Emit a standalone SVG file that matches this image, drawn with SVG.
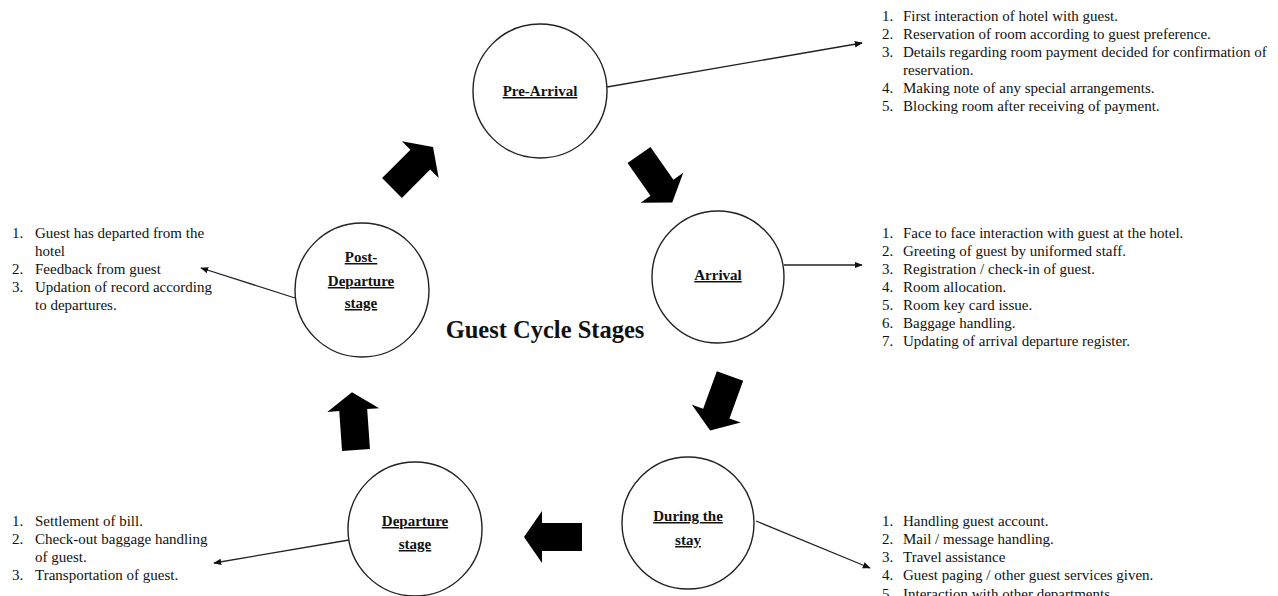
<svg xmlns="http://www.w3.org/2000/svg" width="1278" height="596" viewBox="0 0 1278 596">
<style>
.c{fill:#fff;stroke:#222;stroke-width:1.4}
.lbl{font-family:"Liberation Serif","Times New Roman",serif;font-weight:bold;font-size:15px;text-decoration:underline;text-anchor:middle;fill:#111}
.t{font-family:"Liberation Serif","Times New Roman",serif;font-size:15px;fill:#111}
.title{font-family:"Liberation Serif","Times New Roman",serif;font-weight:bold;font-size:24.5px;text-anchor:middle;fill:#111}
.ln{stroke:#222;stroke-width:1.3;fill:none;marker-end:url(#ah)}
.blk{fill:#000}
</style>
<defs>
<marker id="ah" viewBox="0 0 10 10" refX="9" refY="5" markerWidth="8" markerHeight="8" markerUnits="userSpaceOnUse" orient="auto">
<path d="M0,1 L10,5 L0,9 Z" fill="#111"/>
</marker>
<path id="ba" d="M0,-14 L40,-14 L40,-26 L58,0 L40,26 L40,14 L0,14 Z"/>
</defs>
<rect width="1278" height="596" fill="#fff"/>

<g id="connectors">
<line class="ln" x1="607" y1="87" x2="862" y2="43"/>
<line class="ln" x1="784" y1="265" x2="862" y2="265"/>
<line class="ln" x1="756" y1="521" x2="870" y2="568"/>
<line class="ln" x1="349" y1="540" x2="214" y2="563"/>
<line class="ln" x1="295" y1="298" x2="201" y2="268"/>
<use href="#ba" class="blk" transform="translate(392,188) rotate(-45)"/>
<use href="#ba" class="blk" transform="translate(639,155) rotate(55)"/>
<use href="#ba" class="blk" transform="translate(730,376) rotate(110)"/>
<use href="#ba" class="blk" transform="translate(582,537) rotate(180)"/>
<use href="#ba" class="blk" transform="translate(356,450) rotate(-94)"/>
</g>

<g id="pre-arrival">
<circle class="c" cx="540" cy="91" r="67"/>
<text class="lbl" x="540" y="96">Pre-Arrival</text>
</g>
<g id="arrival">
<circle class="c" cx="718" cy="277" r="66"/>
<text class="lbl" x="718" y="280">Arrival</text>
</g>
<g id="during-stay">
<circle class="c" cx="688" cy="523" r="66"/>
<text class="lbl" x="688" y="521">During the</text>
<text class="lbl" x="688" y="545">stay</text>
</g>
<g id="departure">
<circle class="c" cx="415" cy="529" r="67"/>
<text class="lbl" x="415" y="526">Departure</text>
<text class="lbl" x="415" y="549">stage</text>
</g>
<g id="post-departure">
<circle class="c" cx="362" cy="290" r="67"/>
<text class="lbl" x="361" y="262">Post-</text>
<text class="lbl" x="361" y="286">Departure</text>
<text class="lbl" x="361" y="308">stage</text>
</g>

<text class="title" x="545" y="338">Guest Cycle Stages</text>

<g id="pre-arrival-list" class="t">
<text x="882" y="21">1.</text><text x="903" y="21">First interaction of hotel with guest.</text>
<text x="882" y="39">2.</text><text x="903" y="39">Reservation of room according to guest preference.</text>
<text x="882" y="57">3.</text><text x="903" y="57">Details regarding room payment decided for confirmation of</text>
<text x="903" y="75">reservation.</text>
<text x="882" y="93">4.</text><text x="903" y="93">Making note of any special arrangements.</text>
<text x="882" y="111">5.</text><text x="903" y="111">Blocking room after receiving of payment.</text>
</g>

<g id="arrival-list" class="t">
<text x="882" y="238">1.</text><text x="903" y="238">Face to face interaction with guest at the hotel.</text>
<text x="882" y="256">2.</text><text x="903" y="256">Greeting of guest by uniformed staff.</text>
<text x="882" y="274">3.</text><text x="903" y="274">Registration / check-in of guest.</text>
<text x="882" y="292">4.</text><text x="903" y="292">Room allocation.</text>
<text x="882" y="310">5.</text><text x="903" y="310">Room key card issue.</text>
<text x="882" y="328">6.</text><text x="903" y="328">Baggage handling.</text>
<text x="882" y="346">7.</text><text x="903" y="346">Updating of arrival departure register.</text>
</g>

<g id="during-list" class="t">
<text x="882" y="526">1.</text><text x="903" y="526">Handling guest account.</text>
<text x="882" y="544">2.</text><text x="903" y="544">Mail / message handling.</text>
<text x="882" y="562">3.</text><text x="903" y="562">Travel assistance</text>
<text x="882" y="580">4.</text><text x="903" y="580">Guest paging / other guest services given.</text>
<text x="882" y="599">5.</text><text x="903" y="599">Interaction with other departments.</text>
</g>

<g id="post-departure-list" class="t">
<text x="12" y="238">1.</text><text x="35" y="238">Guest has departed from the</text>
<text x="35" y="256">hotel</text>
<text x="12" y="274">2.</text><text x="35" y="274">Feedback from guest</text>
<text x="12" y="292">3.</text><text x="35" y="292">Updation of record according</text>
<text x="35" y="310">to departures.</text>
</g>

<g id="departure-list" class="t">
<text x="12" y="526">1.</text><text x="35" y="526">Settlement of bill.</text>
<text x="12" y="544">2.</text><text x="35" y="544">Check-out baggage handling</text>
<text x="35" y="562">of guest.</text>
<text x="12" y="580">3.</text><text x="35" y="580">Transportation of guest.</text>
</g>
</svg>
